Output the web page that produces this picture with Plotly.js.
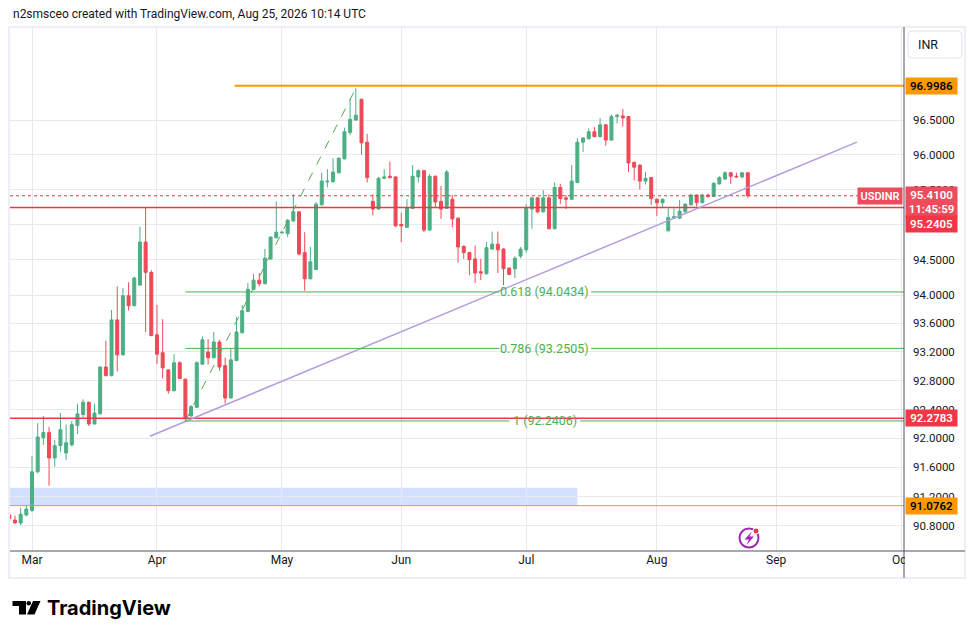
<!DOCTYPE html>
<html>
<head>
<meta charset="utf-8">
<script src="https://cdn.plot.ly/plotly-3.0.1.min.js"></script>
<style>
  html, body { margin: 0; padding: 0; background: #ffffff; }
  #chart { width: 976px; height: 639px; }
</style>
</head>
<body>
<div id="chart"></div>
<script>
// USDINR daily, Feb 24 - Aug 25 2026 (weekdays only)
const FIRST_DAY = '2026-02-24';

const open = [
  90.95, 90.88, 90.84, 90.95,
  91.01, 91.54, 92.01, 92.08, 91.73, 91.90, 91.80, 91.91, 92.18, 92.33, 92.50, 92.20, 92.34, 92.99, 92.87, 93.65, 93.16, 93.99, 93.85, 94.14, 94.75, 94.32,
  93.44, 93.19, 92.95, 92.66, 93.05, 92.82, 92.31, 92.43, 93.03, 93.20, 93.12, 93.34, 93.01, 92.56, 93.08, 93.47, 93.77, 94.08, 94.21, 94.16, 94.51, 94.81,
  94.88, 94.87, 95.05, 95.18, 94.60, 94.23, 94.36, 95.28, 95.61, 95.61, 95.74, 95.94, 96.32, 96.50, 96.80, 96.18, 95.33, 95.22, 95.66, 95.69, 95.68,
  95.00, 94.96, 95.23, 95.68, 95.77, 94.92, 95.69, 95.33, 95.23, 95.36, 95.09, 94.69, 94.60, 94.51, 94.33, 94.30, 94.65, 94.72, 94.65, 94.38, 94.37, 94.55,
  94.64, 95.22, 95.38, 95.18, 95.38, 94.94, 95.53, 95.38, 95.36, 95.60, 96.18, 96.23, 96.33, 96.26, 96.43, 96.21, 96.55, 96.56, 96.55, 95.89, 95.85, 95.62, 95.67,
  95.36, 95.31, 94.91, 95.09, 95.09, 95.18, 95.28, 95.42, 95.31, 95.42, 95.40, 95.58, 95.65, 95.74, 95.69, 95.68, 95.74
];
const high = [
  90.97, 90.94, 91.05, 91.09,
  91.76, 92.21, 92.31, 92.16, 91.98, 92.35, 92.19, 92.24, 92.48, 92.54, 92.51, 92.48, 93.00, 93.36, 93.79, 94.12, 94.10, 94.18, 94.26, 94.97, 95.24, 94.35,
  93.86, 93.66, 92.96, 93.17, 93.07, 92.83, 92.46, 93.07, 93.42, 93.38, 93.48, 93.37, 93.12, 93.25, 93.69, 93.86, 94.17, 94.30, 94.31, 94.65, 94.83, 95.33,
  94.90, 95.08, 95.43, 95.19, 94.89, 94.68, 95.32, 95.74, 95.79, 95.95, 95.96, 96.39, 96.81, 96.96, 96.81, 96.30, 95.43, 95.68, 95.79, 95.90, 95.69,
  95.17, 95.36, 95.85, 95.79, 95.78, 95.72, 95.70, 95.55, 95.78, 95.42, 95.10, 94.70, 94.61, 94.70, 94.51, 94.75, 94.90, 94.90, 94.66, 94.39, 94.55, 94.68,
  95.29, 95.39, 95.39, 95.49, 95.43, 95.60, 95.58, 95.42, 95.85, 96.24, 96.25, 96.38, 96.40, 96.53, 96.44, 96.58, 96.59, 96.66, 96.56, 95.90, 95.86, 95.75, 95.68,
  95.37, 95.37, 95.23, 95.23, 95.35, 95.30, 95.44, 95.43, 95.44, 95.44, 95.60, 95.69, 95.76, 95.75, 95.74, 95.75, 95.75
];
const low = [
  90.88, 90.83, 90.81, 90.93,
  90.99, 91.52, 91.91, 91.35, 91.61, 91.81, 91.70, 91.89, 92.06, 92.29, 92.17, 92.19, 92.33, 92.86, 92.86, 92.93, 93.15, 93.78, 93.84, 94.13, 93.48, 93.42,
  93.03, 92.83, 92.62, 92.65, 92.82, 92.24, 92.30, 92.42, 93.02, 93.03, 93.11, 92.94, 92.48, 92.55, 93.07, 93.46, 93.76, 94.07, 94.12, 94.15, 94.50, 94.80,
  94.87, 94.82, 95.04, 94.56, 94.06, 94.22, 94.35, 95.27, 95.53, 95.60, 95.73, 95.93, 96.28, 96.49, 96.00, 95.60, 95.13, 95.21, 95.65, 95.66, 94.96,
  94.75, 94.95, 95.22, 95.60, 94.89, 94.91, 95.24, 95.08, 95.22, 94.96, 94.46, 94.51, 94.28, 94.17, 94.21, 94.29, 94.64, 94.31, 94.14, 94.28, 94.24, 94.52,
  94.60, 94.94, 95.16, 95.17, 94.93, 94.93, 95.29, 95.22, 95.35, 95.59, 96.04, 96.22, 96.25, 96.25, 96.13, 96.20, 96.45, 96.41, 95.75, 95.63, 95.50, 95.57, 95.28,
  95.12, 95.25, 94.90, 95.08, 95.08, 95.17, 95.27, 95.26, 95.30, 95.38, 95.39, 95.57, 95.64, 95.58, 95.67, 95.66, 95.38
];
const close = [
  90.90, 90.84, 90.96, 91.03,
  91.54, 92.02, 92.08, 91.73, 91.90, 92.12, 91.94, 92.19, 92.34, 92.50, 92.20, 92.35, 92.99, 92.87, 93.65, 93.16, 93.99, 93.85, 94.24, 94.75, 94.32, 93.43,
  93.17, 92.98, 92.66, 93.05, 92.83, 92.28, 92.44, 93.05, 93.37, 93.12, 93.34, 92.99, 92.56, 93.09, 93.48, 93.78, 94.08, 94.21, 94.16, 94.52, 94.82, 94.89,
  94.89, 95.06, 95.18, 94.58, 94.23, 94.47, 95.29, 95.62, 95.62, 95.75, 95.95, 96.33, 96.51, 96.57, 96.17, 95.67, 95.22, 95.66, 95.68, 95.67, 94.98,
  94.98, 95.24, 95.69, 95.77, 94.92, 95.69, 95.32, 95.22, 95.75, 95.08, 94.68, 94.60, 94.50, 94.31, 94.31, 94.67, 94.72, 94.64, 94.37, 94.29, 94.52, 94.65,
  95.24, 95.38, 95.18, 95.38, 94.94, 95.53, 95.37, 95.36, 95.62, 96.18, 96.24, 96.33, 96.26, 96.43, 96.21, 96.55, 96.57, 96.53, 95.88, 95.82, 95.62, 95.66, 95.37,
  95.31, 95.36, 95.10, 95.11, 95.19, 95.29, 95.42, 95.31, 95.42, 95.40, 95.59, 95.67, 95.74, 95.69, 95.68, 95.74, 95.41
];

const monthLabels = ['Mar', 'Apr', 'May', 'Jun', 'Jul', 'Aug', 'Sep', 'Oct'];
const monthTickDays = ['2026-03-02', '2026-04-01', '2026-05-01', '2026-06-01', '2026-07-01', '2026-08-03', '2026-09-01', '2026-10-01'];
const priceTicks = [90.8, 91.2, 91.6, 92.0, 92.4, 92.8, 93.2, 93.6, 94.0, 94.5, 95.0, 95.5, 96.0, 96.5];
const hiddenTicks = [95.0]; // sits fully under the 95.2405 tag

const lastPrice = 95.41;
const countdown = '11:45:59';
const resistance = 96.9986;
const redLevels = [95.2405, 92.2783];
const supportOrange = 91.0762;
const zoneTop = 91.32;

const fibRatios = ['0.618', '0.786', '1'];
const fibLevels = [94.0434, 93.2505, 92.2406];
const swingLow = { day: '2026-04-08', price: 92.2406 };
const swingHigh = { day: '2026-05-20', price: 96.96 };
const trendStart = { day: '2026-03-31 06:00', price: 92.03 };
const trendEnd = { day: '2026-09-21 17:00', price: 96.18 };

const UP = '#4caf84';
const DOWN = '#ef4957';
const RED = '#f23645';
const ORANGE = '#ff9800';
const FIB = '#4caf50';
const TXT = '#131722';
const GRID = '#e6e9f0';

// trading days (skip weekends), candles sit at mid-day so boxes stay inside the day
function tradingDays(start, n) {
  const out = [];
  const d = new Date(start + 'T12:00:00Z');
  while (out.length < n) {
    const wd = d.getUTCDay();
    if (wd !== 0 && wd !== 6) out.push(d.toISOString().slice(0, 10) + ' 12:00');
    d.setUTCDate(d.getUTCDate() + 1);
  }
  return out;
}
const days = tradingDays(FIRST_DAY, close.length);

// pixel helpers for the frame decorations (plot area 10..904 x 27..551)
const L = 10, R = 904, T = 27, B = 551;
const px = x => (x - L) / (R - L);
const py = y => (B - y) / (B - T);
const lg = v => Math.log10(v);

const trace = {
  type: 'candlestick',
  x: days,
  open: open, high: high, low: low, close: close,
  increasing: { line: { color: UP, width: 1 }, fillcolor: UP },
  decreasing: { line: { color: DOWN, width: 1 }, fillcolor: DOWN },
  whiskerwidth: 0,
  hoverinfo: 'skip',
  showlegend: false
};

function hline(y, x0, color, width, dash) {
  return {
    type: 'line', xref: x0 ? 'x' : 'paper', yref: 'y',
    x0: x0 || 0, x1: x0 ? '2026-10-02' : 1, y0: y, y1: y,
    line: { color: color, width: width, dash: dash || 'solid' }, layer: 'above'
  };
}

const shapes = [
  // blue zone
  { type: 'rect', xref: 'x', yref: 'y', x0: '2026-02-20', x1: '2026-07-14 12:00', y0: supportOrange, y1: zoneTop,
    fillcolor: 'rgba(41,98,255,0.2)', line: { width: 0 }, layer: 'below' },
  hline(resistance, '2026-04-21 04:00', ORANGE, 2),
  hline(redLevels[0], null, RED, 1.5),
  hline(redLevels[1], null, RED, 1.5),
  hline(supportOrange, null, ORANGE, 1),
  hline(lastPrice, null, RED, 1, 'dot'),
  // trendline
  { type: 'line', xref: 'x', yref: 'y', x0: trendStart.day, y0: trendStart.price, x1: trendEnd.day, y1: trendEnd.price,
    line: { color: '#b39ddb', width: 1.5 }, layer: 'above' },
  // fib diagonal
  { type: 'line', xref: 'x', yref: 'y', x0: swingLow.day + ' 12:00', y0: swingLow.price, x1: swingHigh.day + ' 12:00', y1: swingHigh.price,
    line: { color: FIB, width: 1, dash: 'dash' }, layer: 'above' }
];

// fib levels, broken where the labels sit
const fibGaps = [['2026-06-24 19:00', '2026-07-16 22:00'], ['2026-06-24 19:00', '2026-07-16 22:00'], ['2026-06-26 12:00', '2026-07-15 00:00']];
fibLevels.forEach((lv, i) => {
  shapes.push({ type: 'line', xref: 'x', yref: 'y', x0: swingLow.day + ' 12:00', x1: fibGaps[i][0], y0: lv, y1: lv,
    line: { color: FIB, width: 1 }, layer: 'above' });
  shapes.push({ type: 'line', xref: 'x', yref: 'y', x0: fibGaps[i][1], x1: '2026-10-02', y0: lv, y1: lv,
    line: { color: FIB, width: 1 }, layer: 'above' });
});

// frame, axis lines, INR button, event icon, logo
shapes.push(
  { type: 'rect', xref: 'paper', yref: 'paper', x0: px(9), x1: px(965), y0: py(578), y1: py(27),
    line: { color: '#eceff4', width: 2 }, fillcolor: 'rgba(0,0,0,0)', layer: 'above' },
  { type: 'rect', xref: 'paper', yref: 'paper', x0: px(905), x1: px(964), y0: py(577), y1: py(552),
    line: { width: 0 }, fillcolor: '#ffffff', layer: 'above' },
  { type: 'line', xref: 'paper', yref: 'paper', x0: px(L), x1: px(965), y0: py(B), y1: py(B),
    line: { color: '#50535e', width: 1 }, layer: 'above' },
  { type: 'line', xref: 'paper', yref: 'paper', x0: px(R), x1: px(R), y0: py(T), y1: py(578),
    line: { color: '#50535e', width: 1 }, layer: 'above' },
  { type: 'path', xref: 'paper', yref: 'paper', layer: 'above',
    path: 'M' + px(912) + ',' + py(31) + ' L' + px(958) + ',' + py(31) + ' Q' + px(962) + ',' + py(31) + ' ' + px(962) + ',' + py(35) +
      ' L' + px(962) + ',' + py(54) + ' Q' + px(962) + ',' + py(58) + ' ' + px(958) + ',' + py(58) +
      ' L' + px(912) + ',' + py(58) + ' Q' + px(908) + ',' + py(58) + ' ' + px(908) + ',' + py(54) +
      ' L' + px(908) + ',' + py(35) + ' Q' + px(908) + ',' + py(31) + ' ' + px(912) + ',' + py(31) + ' Z',
    line: { color: '#e0e3eb', width: 1 }, fillcolor: '#ffffff' },
  { type: 'circle', xref: 'paper', yref: 'paper', x0: px(739.5), x1: px(758.5), y0: py(547.5), y1: py(528.5),
    line: { color: '#9c27b0', width: 2 }, layer: 'above' },
  { type: 'path', xref: 'paper', yref: 'paper', layer: 'above',
    path: 'M' + px(752) + ',' + py(531.5) + ' L' + px(744.5) + ',' + py(539.5) + ' L' + px(749) + ',' + py(539.5) +
      ' L' + px(746.5) + ',' + py(545) + ' L' + px(754) + ',' + py(536.5) + ' L' + px(749.5) + ',' + py(536.5) + ' Z',
    line: { width: 0 }, fillcolor: '#9c27b0' },
  { type: 'circle', xref: 'paper', yref: 'paper', x0: px(753), x1: px(759), y0: py(534), y1: py(528),
    line: { color: '#ffffff', width: 1 }, fillcolor: RED, layer: 'above' },
  { type: 'path', xref: 'paper', yref: 'paper', layer: 'above',
    path: 'M' + px(12.5) + ',' + py(601) + ' L' + px(26) + ',' + py(601) + ' L' + px(26) + ',' + py(614.5) +
      ' L' + px(19) + ',' + py(614.5) + ' L' + px(19) + ',' + py(606) + ' L' + px(12.5) + ',' + py(606) + ' Z',
    line: { width: 0 }, fillcolor: '#000000' },
  { type: 'circle', xref: 'paper', yref: 'paper', x0: px(26.5), x1: px(31), y0: py(605.5), y1: py(601),
    line: { width: 0 }, fillcolor: '#000000', layer: 'above' },
  { type: 'path', xref: 'paper', yref: 'paper', layer: 'above',
    path: 'M' + px(33) + ',' + py(601) + ' L' + px(40.5) + ',' + py(601) + ' L' + px(34.5) + ',' + py(614.5) +
      ' L' + px(27) + ',' + py(614.5) + ' Z',
    line: { width: 0 }, fillcolor: '#000000' }
);

const FONT = 'Roboto, "Liberation Sans", sans-serif';

function axisBox(price, text, bg, fg, yshift, h) {
  return {
    xref: 'paper', yref: 'y', x: 1, y: lg(price), xanchor: 'left', yanchor: 'middle', xshift: 1, yshift: yshift || 0,
    text: text, showarrow: false, bgcolor: bg, borderpad: 2, width: 47, height: h || 12,
    font: { family: FONT, size: 11.5, color: fg, weight: 600 }
  };
}

const annotations = [
  { xref: 'paper', yref: 'paper', x: px(11), y: py(14), xanchor: 'left', yanchor: 'middle', showarrow: false,
    text: 'n2smsceo created with TradingView.com, Aug 25, 2026 10:14 UTC', font: { family: FONT, size: 12, color: TXT } },
  { xref: 'paper', yref: 'paper', x: px(916), y: py(44.5), xanchor: 'left', yanchor: 'middle', showarrow: false,
    text: 'INR', font: { family: FONT, size: 12.5, color: TXT } },
  { xref: 'paper', yref: 'paper', x: px(45), y: py(608), xanchor: 'left', yanchor: 'middle', showarrow: false,
    text: 'TradingView', font: { family: 'Inter, Roboto, sans-serif', size: 20, color: '#000000', weight: 700 } },
  axisBox(resistance, resistance.toFixed(4), ORANGE, '#000000'),
  axisBox(lastPrice, lastPrice.toFixed(4) + '<br>' + countdown, '#ec4c5c', '#ffffff', -6.5, 26),
  axisBox(redLevels[0], redLevels[0].toFixed(4), RED, '#ffffff', -16.5),
  axisBox(redLevels[1], redLevels[1].toFixed(4), RED, '#ffffff'),
  axisBox(supportOrange, supportOrange.toFixed(4), ORANGE, '#000000'),
  { xref: 'paper', yref: 'y', x: 1, y: lg(lastPrice), xanchor: 'right', yanchor: 'middle', xshift: -1,
    text: 'USDINR', showarrow: false, bgcolor: '#ec4c5c', borderpad: 2, width: 40, height: 12,
    font: { family: FONT, size: 11, color: '#ffffff', weight: 600 } }
];

fibLevels.forEach((lv, i) => {
  annotations.push({
    xref: 'x', yref: 'y', x: '2026-07-06 19:00', y: lg(lv), xanchor: 'center', yanchor: 'middle', showarrow: false,
    text: fibRatios[i] + ' (' + lv.toFixed(4) + ')', font: { family: FONT, size: 12.5, color: FIB }
  });
});

const layout = {
  width: 976, height: 639,
  margin: { l: L, r: 976 - R, t: T, b: 639 - B },
  paper_bgcolor: '#ffffff', plot_bgcolor: '#ffffff',
  showlegend: false,
  boxgap: 0.25,
  font: { family: FONT, color: TXT, size: 12 },
  xaxis: {
    type: 'date',
    range: ['2026-02-24 15:00', '2026-10-02 00:00'],
    rangebreaks: [{ bounds: ['sat', 'mon'] }],
    rangeslider: { visible: false },
    tickmode: 'array',
    tickvals: monthTickDays.map(d => d + ' 12:00'),
    ticktext: monthLabels,
    ticks: '',
    showgrid: true, gridcolor: GRID, gridwidth: 1,
    zeroline: false, showline: false,
    tickfont: { family: FONT, size: 12, color: TXT }
  },
  yaxis: {
    type: 'log',
    side: 'right',
    range: [lg(90.459), lg(97.856)],
    tickmode: 'array',
    tickvals: priceTicks,
    ticktext: priceTicks.map(v => hiddenTicks.includes(v) ? '' : v.toFixed(4)),
    ticks: '',
    ticklabelstandoff: 8,
    showgrid: true, gridcolor: GRID, gridwidth: 1,
    zeroline: false, showline: false,
    tickfont: { family: FONT, size: 11.5, color: TXT }
  },
  shapes: shapes,
  annotations: annotations
};

Plotly.newPlot('chart', [trace], layout, { staticPlot: true, displayModeBar: false });
</script>
</body>
</html>
